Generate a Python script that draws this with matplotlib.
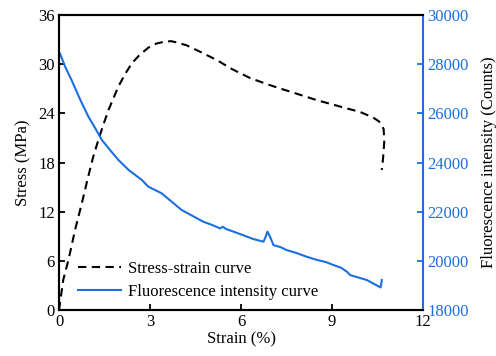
import matplotlib
matplotlib.use('Agg')
import matplotlib.pyplot as plt

plt.rcParams['font.family'] = ['Liberation Serif', 'DejaVu Serif']

# stress-strain curve (strain %, stress MPa)
ss_strain = [0.0, 0.03, 0.14, 0.31, 0.53, 0.75, 0.95, 1.12, 1.30, 1.47, 1.63, 1.8, 1.96, 2.18, 2.40,
             2.65, 2.94, 3.2, 3.49, 3.7, 3.93, 4.2, 4.6, 5.2, 5.7, 6.3, 6.9, 7.4, 8.0, 8.5, 9.0, 9.48, 9.9,
             10.35, 10.55, 10.7, 10.72, 10.68, 10.64]
ss_stress = [0.0, 0.8, 3.7, 6.1, 9.8, 13.0, 16.1, 18.6, 20.8, 22.7, 24.4, 25.9, 27.3, 28.8, 30.1,
             31.1, 32.0, 32.5, 32.75, 32.8, 32.6, 32.3, 31.6, 30.5, 29.4, 28.3, 27.5, 26.9, 26.2, 25.6, 25.1, 24.6, 24.2,
             23.5, 23.0, 22.1, 20.5, 18.5, 17.1]

# fluorescence intensity curve (strain %, counts)
fl_strain = [0.0, 0.03, 0.2, 0.41, 0.7, 0.97, 1.2, 1.41, 1.7, 1.96, 2.29, 2.73, 2.94, 3.38,
             3.7, 4.04, 4.4, 4.76, 5.05, 5.31, 5.4, 5.5, 5.75, 6.1, 6.4, 6.74, 6.8, 6.87, 6.95,
             7.07, 7.3, 7.5, 7.8, 8.16, 8.5, 8.8, 9.05, 9.3, 9.49, 9.6, 9.85, 10.15, 10.4, 10.6,
             10.64]
fl_counts = [28450, 28440, 27900, 27360, 26550, 25860, 25380, 24920, 24480, 24100, 23700, 23290, 23020, 22750,
             22420, 22070, 21830, 21590, 21460, 21320, 21390, 21300, 21190, 21030, 20890, 20780, 20950, 21190, 21000,
             20640, 20560, 20440, 20330, 20170, 20040, 19950, 19830, 19720, 19560, 19420, 19330, 19220, 19050, 18920,
             19220]

blue = '#1c6fe0'

fig = plt.figure(figsize=(4.96, 3.56), dpi=100)
ax = fig.add_axes([0.119, 0.129, 0.734, 0.829])
ax2 = ax.twinx()

l1, = ax.plot(ss_strain, ss_stress, color='black', lw=1.5, dashes=(4, 2.6), label='Stress-strain curve')
l2, = ax2.plot(fl_strain, fl_counts, color=blue, lw=1.5, label='Fluorescence intensity curve')

ax.set_xlim(0, 12)
ax.set_ylim(0, 36)
ax.set_xticks([0, 3, 6, 9, 12])
ax.set_yticks([0, 6, 12, 18, 24, 30, 36])
ax2.set_ylim(18000, 30000)
ax2.set_yticks([18000, 20000, 22000, 24000, 26000, 28000, 30000])

ax.set_xlabel('Strain (%)', fontsize=12, labelpad=1)
ax.set_ylabel('Stress (MPa)', fontsize=12, labelpad=5)
ax2.set_ylabel('Fluorescence intensity (Counts)', fontsize=12, labelpad=9)

ax.tick_params(axis='both', direction='in', labelsize=12, width=1.3, length=4, pad=3)
ax2.tick_params(axis='y', direction='in', labelsize=12, width=1.3, length=4, colors=blue, pad=3)
ax2.yaxis.label.set_color('black')

for s in ax.spines.values():
    s.set_linewidth(1.5)
for s in ax2.spines.values():
    s.set_linewidth(1.5)
ax2.spines['right'].set_color(blue)
ax.spines['right'].set_visible(False)

ax.legend([l1, l2], ['Stress-strain curve', 'Fluorescence intensity curve'],
          loc='lower left', bbox_to_anchor=(0.025, 0.0), frameon=False, fontsize=12,
          handlelength=2.6, handletextpad=0.4, labelspacing=0.42, borderaxespad=0.2)

fig.savefig('out.png', dpi=100)
